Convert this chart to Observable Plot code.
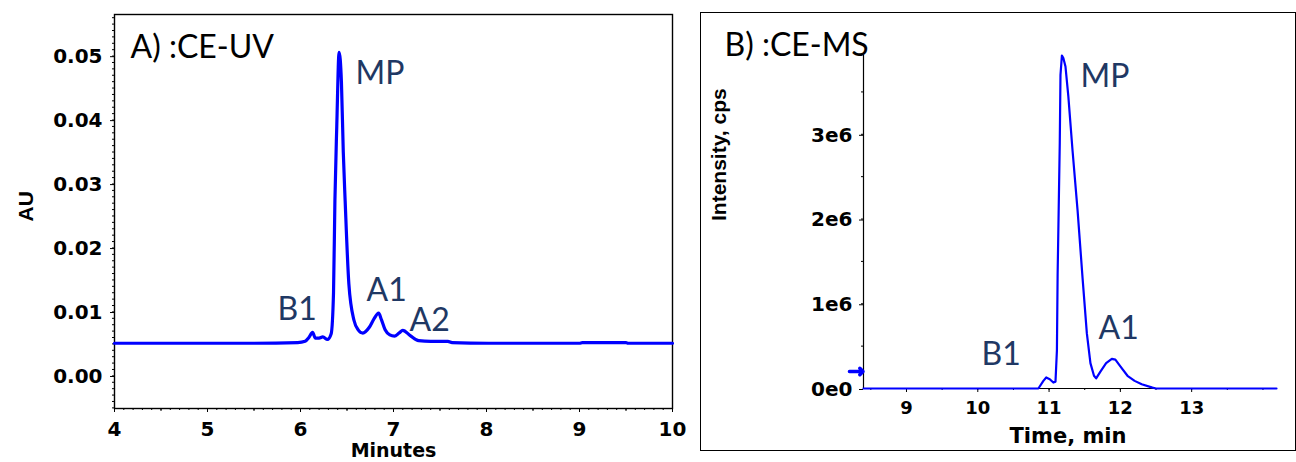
<!DOCTYPE html>
<html>
<head>
<meta charset="utf-8">
<script src="https://cdn.jsdelivr.net/npm/d3@7"></script>
<script src="https://cdn.jsdelivr.net/npm/@observablehq/plot@0.6"></script>
<style>
  html, body { margin: 0; padding: 0; background: #fff; }
  #wrap { position: relative; width: 1296px; height: 462px; overflow: hidden; background: #fff; }
  #left { position: absolute; left: 0; top: 0; }
  #right { position: absolute; left: 700px; top: 0; }
  #rframe { position: absolute; left: 700px; top: 12px; width: 596px; height: 439px; box-sizing: border-box; border: 1px solid #000; }
</style>
</head>
<body>
<div id="wrap">
  <div id="left"></div>
  <div id="rframe"></div>
  <div id="right"></div>
</div>
<script>
// ---------- Panel A: CE-UV ----------
const uvTime = [4.0, 4.4, 5.0, 5.5, 5.97, 6.05, 6.09, 6.13, 6.16, 6.2, 6.24, 6.29, 6.33, 6.355, 6.37, 6.39, 6.415, 6.44, 6.46, 6.48, 6.52, 6.575, 6.62, 6.67, 6.74, 6.79, 6.84, 6.87, 6.91, 6.96, 7.01, 7.06, 7.10, 7.18, 7.27, 7.4, 7.585, 7.63, 8.02, 8.5, 9.0, 9.03, 9.5, 9.52, 10.0];
const uvAU   = [0.0041, 0.0041, 0.0041, 0.0041, 0.0042, 0.0044, 0.0050, 0.0058, 0.0049, 0.0049, 0.0051, 0.0047, 0.0056, 0.0120, 0.0264, 0.0380, 0.0496, 0.0450, 0.0340, 0.0264, 0.0134, 0.0077, 0.0062, 0.0057, 0.0066, 0.0079, 0.0088, 0.0078, 0.0062, 0.0054, 0.0052, 0.0057, 0.0061, 0.0053, 0.0045, 0.0044, 0.0044, 0.0042, 0.0041, 0.0041, 0.0041, 0.0042, 0.0042, 0.0041, 0.0041];
const uvXTicks = [4, 5, 6, 7, 8, 9, 10];
const uvYTicks = [0.00, 0.01, 0.02, 0.03, 0.04, 0.05];
const uvYTickLabels = ["0.00", "0.01", "0.02", "0.03", "0.04", "0.05"];
const uvLabels = ["A) :CE-UV", "MP", "B1", "A1", "A2"];
const uvLabelX = [4.172, 6.591, 5.753, 6.710, 7.172];
const uvLabelY = [0.04875, 0.04469, 0.00781, 0.01078, 0.00609];

// ---------- Panel B: CE-MS ----------
const msTime = [8.397, 10.85, 10.92, 10.96, 11.01, 11.06, 11.09, 11.11, 11.12, 11.15, 11.16, 11.18, 11.2, 11.23, 11.27, 11.33, 11.4, 11.47, 11.53, 11.58, 11.63, 11.66, 11.72, 11.8, 11.88, 11.93, 12.0, 12.1, 12.2, 12.3, 12.45, 12.5, 14.19];
const msIntensity = [0, 0, 0.09e6, 0.13e6, 0.11e6, 0.07e6, 0.08e6, 0.45e6, 1.35e6, 2.9e6, 3.7e6, 3.93e6, 3.9e6, 3.8e6, 3.45e6, 2.8e6, 2.1e6, 1.3e6, 0.65e6, 0.3e6, 0.15e6, 0.12e6, 0.2e6, 0.3e6, 0.35e6, 0.34e6, 0.26e6, 0.15e6, 0.09e6, 0.05e6, 0.01e6, 0, 0];
const msXTicks = [9, 10, 11, 12, 13];
const msYTicks = [0, 1e6, 2e6, 3e6];
const msYTickLabels = ["0e0", "1e6", "2e6", "3e6"];
const msLabels = ["B) :CE-MS", "MP", "A1", "B1"];
const msLabelX = [6.447, 11.44, 11.693, 10.052];
const msLabelY = [3.93e6, 3.554e6, 0.59e6, 0.283e6];
const msMarker = [{x1: 8.20, x2: 8.39, y: 0.2e6}];

const navy = "#1f3864";
const blue = "#0000ff";
const tickFont = {fontFamily: "DejaVu Sans", fontWeight: "bold"};

const uvData = uvTime.map((t, i) => ({t, v: uvAU[i]}));
const uvAnn = uvLabels.map((s, i) => ({s, x: uvLabelX[i], y: uvLabelY[i], c: i === 0 ? "#000" : navy}));

const left = Plot.plot({
  width: 700, height: 462,
  marginLeft: 114, marginRight: 28, marginTop: 14, marginBottom: 54,
  style: {background: "white", overflow: "visible", fontFamily: "DejaVu Sans"},
  x: {domain: [4, 10], label: null},
  y: {domain: [-0.0061, 0.0555], label: null},
  marks: [
    Plot.axisX(d3.range(4, 10.001, 0.1), {tickSize: 2, tickFormat: () => "", label: null, strokeWidth: 1}),
    Plot.axisX(d3.range(4.5, 10, 1), {tickSize: 3, tickFormat: () => "", label: null}),
    Plot.axisX(uvXTicks, {tickSize: 4, tickPadding: 9, tickFormat: d => String(d), label: null, fontSize: 20, ...tickFont, fill: "#000"}),
    Plot.axisY(d3.range(-0.006, 0.0555, 0.001), {tickSize: 2, tickFormat: () => "", label: null}),
    Plot.axisY(uvYTicks, {tickSize: 4, tickPadding: 8, dy: 7, tickFormat: (d, i) => uvYTickLabels[i], label: null, fontSize: 20, ...tickFont, fill: "#000"}),
    Plot.frame({stroke: "#000", strokeWidth: 1.4}),
    Plot.line(uvData, {x: "t", y: "v", stroke: blue, strokeWidth: 3.2, curve: "monotone-x"}),
    Plot.text(uvAnn, {x: "x", y: "y", text: "s", fill: "c", textAnchor: "start", lineAnchor: "bottom", fontSize: 32, fontFamily: "Lato"}),
    Plot.text(["Minutes"], {frameAnchor: "bottom", dy: 48, text: d => d, fontSize: 19, ...tickFont, fill: "#000", lineAnchor: "bottom"}),
    Plot.text(["AU"], {frameAnchor: "left", dx: -88, dy: 10, text: d => d, rotate: -90, fontSize: 21, fontFamily: "Liberation Sans", fontWeight: "bold", fill: "#000"})
  ]
});
document.getElementById("left").appendChild(left);

const msData = msTime.map((t, i) => ({t, v: msIntensity[i]}));
const msAnn = msLabels.map((s, i) => ({s, x: msLabelX[i], y: msLabelY[i], c: i === 0 ? "#000" : navy}));

const right = Plot.plot({
  width: 596, height: 462,
  marginLeft: 163, marginRight: 20, marginTop: 55, marginBottom: 74,
  style: {background: "transparent", overflow: "visible", fontFamily: "DejaVu Sans"},
  x: {domain: [8.397, 14.19], label: null},
  y: {domain: [0, 3.93e6], label: null},
  marks: [
    Plot.axisX(d3.range(8.5, 14.1, 0.5), {tickSize: 2, tickFormat: () => "", label: null}),
    Plot.axisX(msXTicks, {tickSize: 4, tickPadding: 9, tickFormat: d => String(d), label: null, fontSize: 18, ...tickFont, fill: "#000"}),
    Plot.axisY(d3.range(0.5e6, 3.9e6, 0.5e6), {tickSize: 2, tickFormat: () => "", label: null}),
    Plot.axisY(msYTicks, {tickSize: 4, tickPadding: 7, dy: 1, tickFormat: (d, i) => msYTickLabels[i], label: null, fontSize: 20, ...tickFont, fill: "#000"}),
    Plot.ruleY([0], {stroke: "#000", strokeWidth: 1.2}),
    Plot.ruleX([8.397], {stroke: "#000", strokeWidth: 1.2}),
    Plot.line(msData, {x: "t", y: "v", stroke: blue, strokeWidth: 2.2}),
    Plot.arrow(msMarker, {x1: "x1", x2: "x2", y1: "y", y2: "y", stroke: blue, strokeWidth: 3.5, headLength: 9, headAngle: 90}),
    Plot.text(msAnn, {x: "x", y: "y", text: "s", fill: "c", textAnchor: "start", lineAnchor: "bottom", fontSize: 32, fontFamily: "Lato"}),
    Plot.text(["Time, min"], {frameAnchor: "bottom", dx: -2, dy: 54, text: d => d, fontSize: 21, ...tickFont, fill: "#000", lineAnchor: "bottom"}),
    Plot.text(["Intensity, cps"], {frameAnchor: "left", dx: -144, dy: -1, text: d => d, rotate: -90, fontSize: 21, fontFamily: "Liberation Sans", fontWeight: "bold", fill: "#000"})
  ]
});
document.getElementById("right").appendChild(right);
</script>
</body>
</html>
